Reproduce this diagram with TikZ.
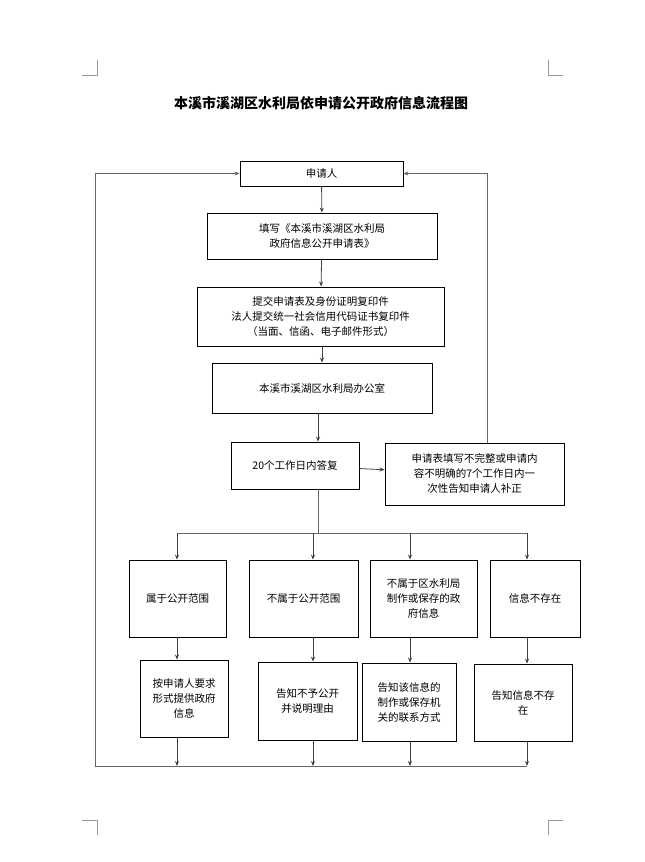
\documentclass[tikz,border=0pt]{standalone}
\usepackage{fontspec}
\setmainfont{Noto Sans CJK SC}
\usepackage{tikz}
\usetikzlibrary{arrows.meta}

\begin{document}
\begin{tikzpicture}[x=1pt,y=-1pt,font=\fontsize{10.5}{15}\selectfont,
  box/.style n args={2}{draw,line width=0.8pt,minimum width=#1pt,minimum height=#2pt,align=center,inner sep=1pt},
  arr/.style={draw=black!75,line width=0.8pt,-{Stealth[length=5pt,width=4pt]}},
  ln/.style={draw=black!60,line width=0.9pt}]
\useasboundingbox (0,0) rectangle (645,862);
% crop marks
\draw[black!40] (97,60) -- (97,75) -- (82,75) (548,60) -- (548,75) -- (563,75)
  (97,835) -- (97,820) -- (82,820) (548,835) -- (548,820) -- (563,820);
\node[font=\fontsize{14}{16}\selectfont\bfseries] (title) at (321,103) {本溪市溪湖区水利局依申请公开政府信息流程图};
\node[box={163}{25}] (app) at (321.5,173.5) {申请人};
\node[box={230}{46}] (fill) at (322,236) {填写《本溪市溪湖区水利局\\政府信息公开申请表》};
\node[box={247}{59}] (submit) at (320.5,316.5) {提交申请表及身份证明复印件\\法人提交统一社会信用代码证书复印件\\（当面、信函、电子邮件形式）};
\node[box={220}{50}] (office) at (322,388) {本溪市溪湖区水利局办公室};
\node[box={128}{47}] (reply) at (295,465.5) {20个工作日内答复};
\node[box={179}{62}] (fix) at (474.5,474) {申请表填写不完整或申请内\\容不明确的7个工作日内一\\次性告知申请人补正};
\node[box={97}{77}] (c1) at (177.5,598.5) {属于公开范围};
\node[box={109}{77}] (c2) at (303.5,598.5) {不属于公开范围};
\node[box={107}{77}] (c3) at (423.5,598.5) {不属于区水利局\\制作或保存的政\\府信息};
\node[box={90}{77}] (c4) at (535,598.5) {信息不存在};
\node[box={88}{77}] (r1) at (184,698.5) {按申请人要求\\形式提供政府\\信息};
\node[box={99}{78}] (r2) at (307.5,701) {告知不予公开\\并说明理由};
\node[box={94}{78}] (r3) at (409,702) {告知该信息的\\制作或保存机\\关的联系方式};
\node[box={98}{77}] (r4) at (523,702.5) {告知信息不存\\在};
% main flow
\draw[arr] (app) -- (fill);
\draw[arr] (fill) -- (submit);
\draw[arr] (submit.south -| office) -- (office);
\draw[arr] (office.south -| 318,0) -- (reply.north -| 318,0);
\draw[arr] (reply) -- (fix);
\draw[arr,ln] (fix.north -| 487,0) |- (app.east);
\coordinate (split) at (318,533);
\draw[ln] (reply.south -| split) -- (split);
\draw[ln] (177,533) -- (527,533);
\foreach \x/\a/\b in {177/c1/r1,313/c2/r2,410/c3/r3,527/c4/r4}{
  \draw[arr] (\x,533) -- (\a.north -| \x,0);
  \draw[arr] (\a.south -| \x,0) -- (\b.north -| \x,0);
  \draw[arr] (\b.south -| \x,0) -- (\x,766);
}
\draw[ln] (527,766) -- (95,766);
\draw[arr,ln] (95,766) |- (app.west);
\end{tikzpicture}
\end{document}
